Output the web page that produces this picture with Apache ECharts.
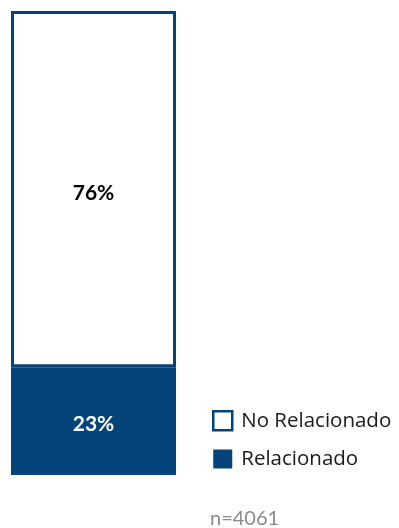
<!DOCTYPE html>
<html>
<head>
<meta charset="utf-8">
<script src="https://cdn.jsdelivr.net/npm/echarts@6/dist/echarts.min.js"></script>
<style>
  html, body { margin: 0; padding: 0; background: #fff; }
  #chart { width: 399px; height: 528px; }
</style>
</head>
<body>
<div id="chart"></div>
<script>
// Single stacked column: share of related vs. unrelated responses
const categories = ['Total'];
const relacionado = [23];
const noRelacionado = [76];
const seriesNames = ['Relacionado', 'No Relacionado'];
const sampleNote = 'n=4061';

const navy = '#05447a';
const labelFont = 'Lato, "Open Sans", sans-serif';
const legendFont = '"Open Sans", Lato, sans-serif';

const chart = echarts.init(document.getElementById('chart'), null, { renderer: 'canvas' });

chart.setOption({
  animation: false,
  backgroundColor: '#ffffff',
  grid: { left: 11, right: 223, top: 11, bottom: 53 },
  xAxis: {
    type: 'category',
    data: categories,
    show: false
  },
  yAxis: {
    type: 'value',
    min: 0,
    max: relacionado[0] + noRelacionado[0],
    show: false
  },
  legend: {
    orient: 'vertical',
    left: 212,
    top: 410,
    padding: 0,
    itemWidth: 19,
    itemHeight: 19,
    itemGap: 17,
    icon: 'rect',
    textStyle: { fontFamily: legendFont, fontSize: 20.5, color: '#1a1a1a', padding: [0, 0, 0, 4] },
    data: [
      { name: seriesNames[1], itemStyle: { color: '#ffffff', borderColor: navy, borderWidth: 2.5 } },
      { name: seriesNames[0], itemStyle: { color: navy } }
    ]
  },
  series: [
    {
      name: seriesNames[0],
      type: 'bar',
      stack: 'total',
      barWidth: '100%',
      data: relacionado,
      itemStyle: { color: navy },
      label: {
        show: true,
        position: 'inside',
        offset: [0, 3],
        formatter: '{c}%',
        fontFamily: labelFont,
        fontWeight: 'bold',
        fontSize: 21,
        color: '#ffffff'
      }
    },
    {
      name: seriesNames[1],
      type: 'bar',
      stack: 'total',
      barWidth: '100%',
      data: noRelacionado,
      itemStyle: { color: '#ffffff', borderColor: navy, borderWidth: 3 },
      label: {
        show: true,
        position: 'inside',
        offset: [0, 4],
        formatter: '{c}%',
        fontFamily: labelFont,
        fontWeight: 'bold',
        fontSize: 21,
        color: '#000000'
      }
    }
  ],
  graphic: [
    {
      type: 'text',
      left: 210,
      top: 509,
      style: { text: sampleNote, font: '20px ' + labelFont, fill: '#8a8a8a' }
    }
  ]
});
</script>
</body>
</html>
